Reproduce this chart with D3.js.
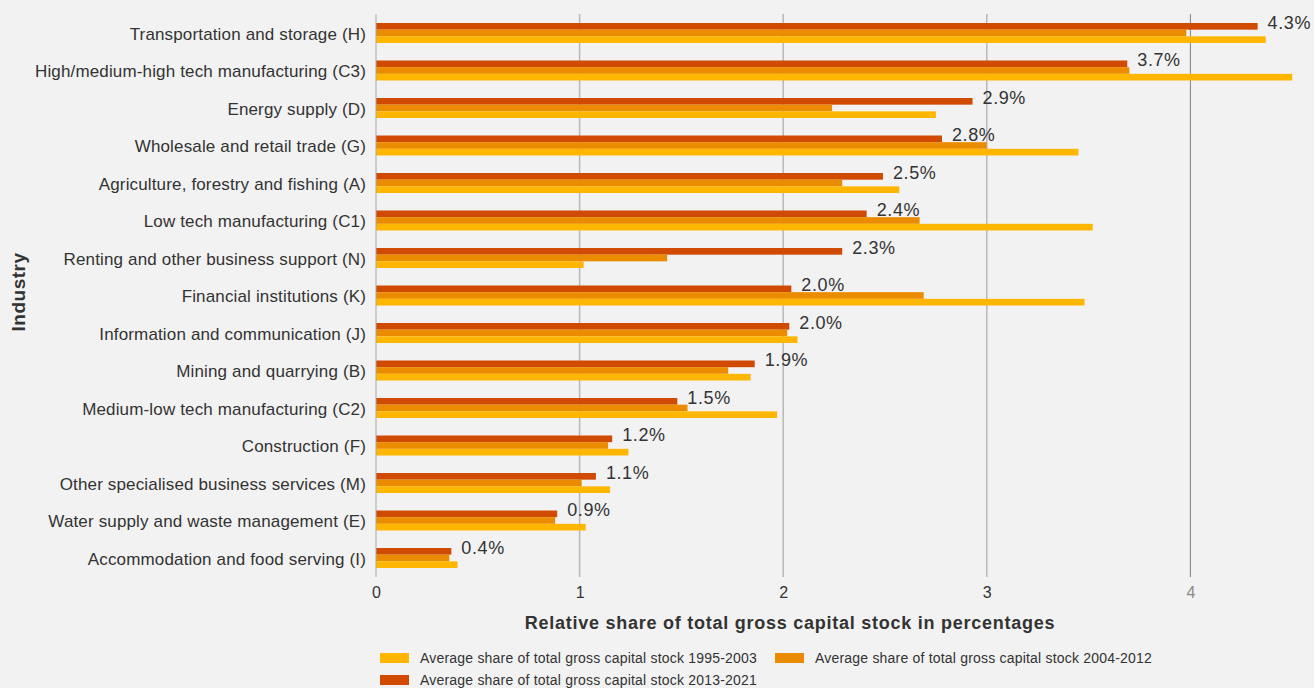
<!DOCTYPE html>
<html>
<head>
<meta charset="utf-8">
<script src="https://cdn.jsdelivr.net/npm/d3@7/dist/d3.min.js"></script>
<style>
  html, body { margin: 0; padding: 0; background: #f2f2f2; }
  svg { display: block; font-family: "Liberation Sans", Arial, Helvetica, sans-serif; }
</style>
</head>
<body>
<svg id="chart" width="1314" height="688"></svg>
<script>
// Industries, ordered by their 2013-2021 share
const industries = [
  "Transportation and storage (H)",
  "High/medium-high tech manufacturing (C3)",
  "Energy supply (D)",
  "Wholesale and retail trade (G)",
  "Agriculture, forestry and fishing (A)",
  "Low tech manufacturing (C1)",
  "Renting and other business support (N)",
  "Financial institutions (K)",
  "Information and communication (J)",
  "Mining and quarrying (B)",
  "Medium-low tech manufacturing (C2)",
  "Construction (F)",
  "Other specialised business services (M)",
  "Water supply and waste management (E)",
  "Accommodation and food serving (I)"
];

// Average share of total gross capital stock, in percent
const share1995_2003 = [4.37, 4.50, 2.75, 3.45, 2.57, 3.52, 1.02, 3.48, 2.07, 1.84, 1.97, 1.24, 1.15, 1.03, 0.40];
const share2004_2012 = [3.98, 3.70, 2.24, 3.00, 2.29, 2.67, 1.43, 2.69, 2.02, 1.73, 1.53, 1.14, 1.01, 0.88, 0.36];
const share2013_2021 = [4.33, 3.69, 2.93, 2.78, 2.49, 2.41, 2.29, 2.04, 2.03, 1.86, 1.48, 1.16, 1.08, 0.89, 0.37];

const seriesNames = [
  "Average share of total gross capital stock 2013-2021",
  "Average share of total gross capital stock 2004-2012",
  "Average share of total gross capital stock 1995-2003"
];
const seriesColors = ["#d04a02", "#eb8c00", "#ffb600"];
const xTicks = [0, 1, 2, 3, 4];

const seriesValues = [share2013_2021, share2004_2012, share1995_2003];
const rows = industries.map((name, i) => ({
  name,
  values: seriesValues.map((arr, s) => ({ s, v: arr[i] }))
}));

const svg = d3.select("#chart");
const textColor = "#333333";

const x = d3.scaleLinear().domain([0, 4]).range([376, 1190.4]);
const y = d3.scaleBand().domain(industries).range([14, 577])
  .paddingInner(0.467).paddingOuter(0.24);
const ySub = d3.scaleBand().domain([0, 1, 2]).range([0, y.bandwidth()]);

// vertical gridlines
const grid = svg.append("g");
grid.selectAll("line").data(xTicks.slice(1)).join("line")
  .attr("x1", d => x(d)).attr("x2", d => x(d))
  .attr("y1", 14).attr("y2", 577)
  .attr("stroke", d => d === 4 ? "#808080" : "#b8b8b8")
  .attr("stroke-width", d => d === 4 ? 1 : 1.5);

// bars
const groups = svg.append("g").selectAll("g").data(rows).join("g")
  .attr("transform", d => `translate(0,${y(d.name)})`);
groups.selectAll("rect").data(d => d.values).join("rect")
  .attr("x", x(0))
  .attr("y", d => ySub(d.s))
  .attr("width", d => x(d.v) - x(0))
  .attr("height", ySub.bandwidth())
  .attr("fill", d => seriesColors[d.s]);

// value labels for the latest period
svg.append("g").selectAll("text").data(rows).join("text")
  .attr("x", d => x(d.values[0].v) + 10)
  .attr("y", d => y(d.name) + 5.5)
  .attr("font-size", 18)
  .attr("letter-spacing", 0.6)
  .attr("fill", textColor)
  .text(d => d.values[0].v.toFixed(1) + "%");

// zero axis line
svg.append("line")
  .attr("x1", x(0)).attr("x2", x(0))
  .attr("y1", 14).attr("y2", 577)
  .attr("stroke", "#a8a8a8").attr("stroke-width", 1);

// category axis
const yAxis = d3.axisLeft(y).tickSize(0).tickPadding(10);
const yg = svg.append("g").attr("transform", `translate(${x(0)},1.5)`).call(yAxis);
yg.select(".domain").remove();
yg.selectAll("text")
  .attr("font-size", 17)
  .attr("letter-spacing", 0.15)
  .attr("font-family", "Liberation Sans, Arial, sans-serif")
  .attr("fill", textColor);

// value axis
const xAxis = d3.axisBottom(x).tickValues(xTicks).tickSize(0).tickPadding(8)
  .tickFormat(d3.format("d"));
const xg = svg.append("g").attr("transform", "translate(0,579)").call(xAxis);
xg.select(".domain").remove();
xg.selectAll("text")
  .attr("font-size", 16)
  .attr("font-family", "Liberation Sans, Arial, sans-serif")
  .attr("fill", d => d === 4 ? "#8a8a8a" : textColor);

// axis titles
svg.append("text")
  .attr("x", 790).attr("y", 629)
  .attr("text-anchor", "middle")
  .attr("font-size", 18).attr("font-weight", "bold")
  .attr("letter-spacing", 0.75)
  .attr("fill", textColor)
  .text("Relative share of total gross capital stock in percentages");

svg.append("text")
  .attr("transform", "translate(25,292) rotate(-90)")
  .attr("text-anchor", "middle")
  .attr("font-size", 19).attr("font-weight", "bold")
  .attr("letter-spacing", 0.5)
  .attr("fill", textColor)
  .text("Industry");

// legend
const legendItems = [
  { name: seriesNames[2], color: seriesColors[2], lx: 380, ly: 653 },
  { name: seriesNames[1], color: seriesColors[1], lx: 775, ly: 653 },
  { name: seriesNames[0], color: seriesColors[0], lx: 380, ly: 675 }
];
const legend = svg.append("g").selectAll("g").data(legendItems).join("g")
  .attr("transform", d => `translate(${d.lx},${d.ly})`);
legend.append("rect")
  .attr("width", 29).attr("height", 10)
  .attr("fill", d => d.color);
legend.append("text")
  .attr("x", 40).attr("y", 10)
  .attr("font-size", 14)
  .attr("letter-spacing", 0.2)
  .attr("fill", textColor)
  .text(d => d.name);
</script>
</body>
</html>
